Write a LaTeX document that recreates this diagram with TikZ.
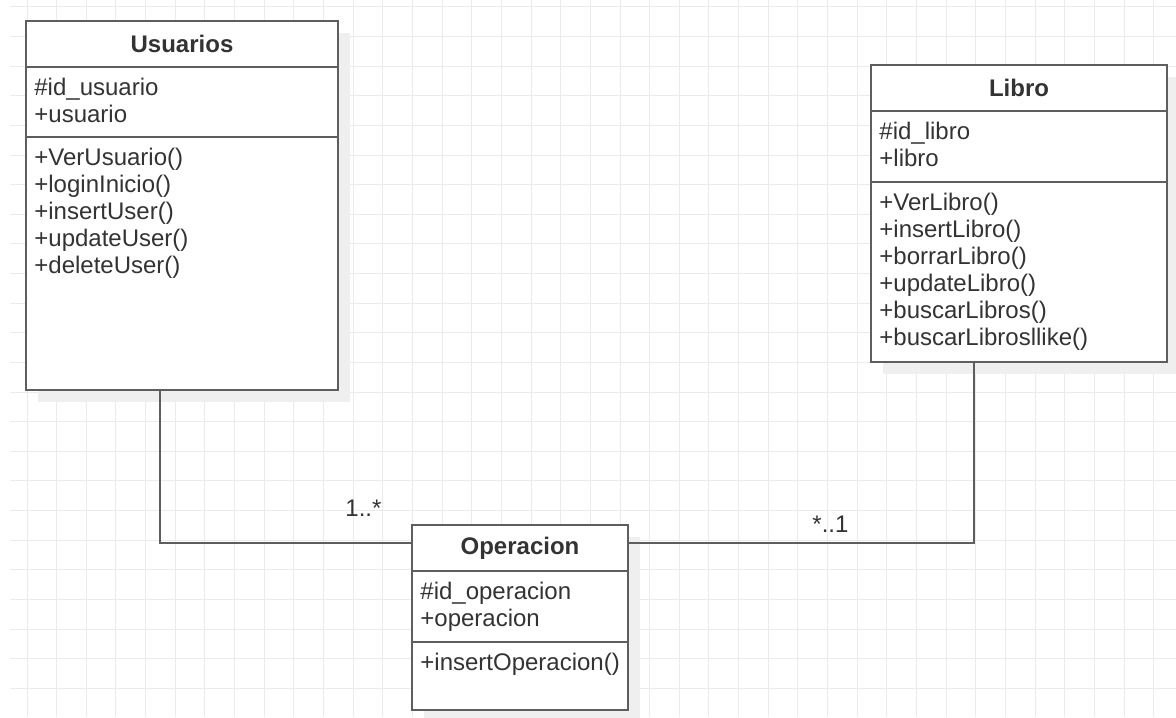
\documentclass[tikz,border=0pt]{standalone}
\usepackage{fontspec}
\setmainfont{Liberation Sans}
\usepackage{tikz}
\usepackage{xcolor}
\usetikzlibrary{positioning, shadows}

\definecolor{linegray}{HTML}{5E5E5E}
\definecolor{textgray}{HTML}{333333}
\definecolor{gridgray}{HTML}{EBEBEB}
\definecolor{shadowgray}{HTML}{EFEFEF}

\begin{document}
\begin{tikzpicture}[x=0.5pt, y=-0.5pt,
        classbox/.style={rectangle, draw=linegray, line width=1pt, fill=white, outer sep=0pt, inner sep=0pt,
            general shadow={fill=shadowgray, shadow xshift=6pt, shadow yshift=-6pt}},
        classtitle/.style={classbox, minimum height=23pt, text=textgray, font=\fontsize{12}{13.5}\selectfont\bfseries},
        members/.style={anchor=north west, align=left, inner xsep=4pt, inner ysep=5.3pt, text=textgray, font=\fontsize{12}{13.5}\selectfont},
        mult/.style={anchor=base west, inner sep=0pt, text=textgray, font=\fontsize{12}{13.5}\selectfont},
        assoc/.style={draw=linegray, line width=1pt},
        gridline/.style={draw=gridgray, line width=0.5pt}]
        \fill[white] (0,0) rectangle (1176,717);
        \useasboundingbox (0,0) rectangle (1176,717);
        % grid
        \foreach \i in {0,...,38}
            \draw[gridline] ({27+29.65*\i},0) -- ({27+29.65*\i},717);
        \foreach \j in {0,...,23}
            \draw[gridline] (10,{7+29.62*\j}) -- (1176,{7+29.62*\j});

        % Usuarios
        \node[classtitle, minimum width=156pt] (usutitle) at (182,44) {Usuarios};
        \node[classbox, minimum width=156pt, minimum height=35pt, below=0pt of usutitle] (usuattr) {};
        \node[classbox, minimum width=156pt, minimum height=126.5pt, below=0pt of usuattr] (usumeth) {};
        \node[members] (usuattrtext) at (usuattr.north west) {\#id\_usuario\\+usuario};
        \node[members] (usumethtext) at (usumeth.north west) {+VerUsuario()\\+loginInicio()\\+insertUser()\\+updateUser()\\+deleteUser()};

        % Libro
        \node[classtitle, minimum width=148pt] (libtitle) at (1019,88) {Libro};
        \node[classbox, minimum width=148pt, minimum height=35.5pt, below=0pt of libtitle] (libattr) {};
        \node[classbox, minimum width=148pt, minimum height=90pt, below=0pt of libattr] (libmeth) {};
        \node[members] (libattrtext) at (libattr.north west) {\#id\_libro\\+libro};
        \node[members] (libmethtext) at (libmeth.north west) {+VerLibro()\\+insertLibro()\\+borrarLibro()\\+updateLibro()\\+buscarLibros()\\+buscarLibrosllike()};

        % Operacion
        \node[classtitle, minimum width=108pt] (opetitle) at (520,548) {Operacion};
        \node[classbox, minimum width=108pt, minimum height=35.5pt, below=0pt of opetitle] (opeattr) {};
        \node[classbox, minimum width=108pt, minimum height=34pt, below=0pt of opeattr] (opemeth) {};
        \node[members] (opeattrtext) at (opeattr.north west) {\#id\_operacion\\+operacion};
        \node[members] (opemethtext) at (opemeth.north west) {+insertOperacion()};

        % associations
        \draw[assoc] ([xshift=-11pt]usumeth.south) |- ([yshift=2.5pt]opetitle.west);
        \draw[assoc] ([xshift=-22.5pt]libmeth.south) |- ([yshift=2.5pt]opetitle.east);
        \node[mult] (usumult) at (345,516) {1..*};
        \node[mult] (libmult) at (812,532) {*..1};
    \end{tikzpicture}
\end{document}
